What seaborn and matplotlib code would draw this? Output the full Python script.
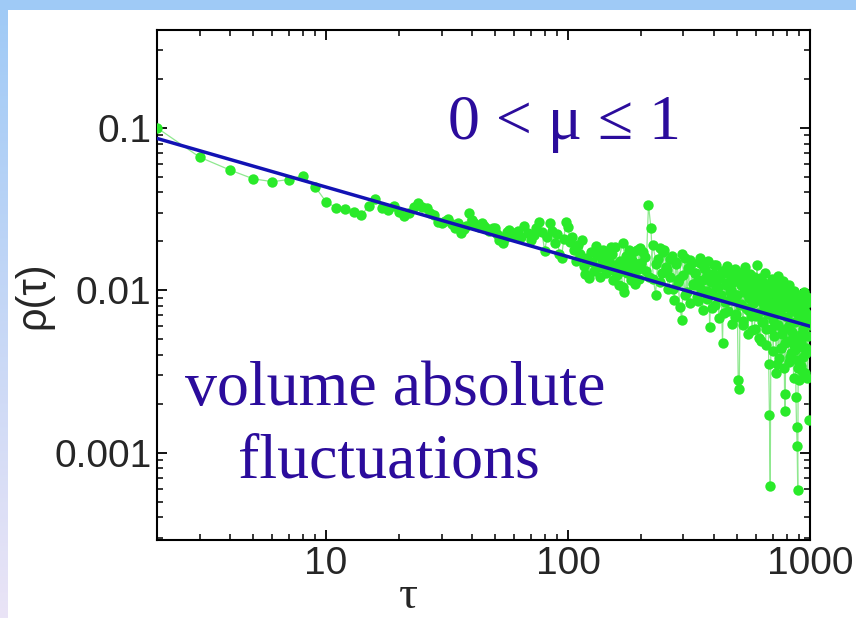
import numpy as np
import pandas as pd
import matplotlib
matplotlib.use("Agg")
import matplotlib.pyplot as plt
import seaborn as sns
from matplotlib.ticker import LogLocator, NullFormatter, FixedLocator, FixedFormatter
from matplotlib.patches import Rectangle

# ---------------- data ----------------
tau_early = list(range(2, 61))
rho_early = [0.100, 0.066, 0.055, 0.0485, 0.0466, 0.048, 0.0507, 0.0434, 0.035,
             0.0323, 0.0317, 0.0304, 0.029, 0.033, 0.0365, 0.032, 0.031, 0.033, 0.0304,
             0.0288, 0.030, 0.0326, 0.0345, 0.0326, 0.032, 0.030, 0.029, 0.0264, 0.026,
             0.0268, 0.0275, 0.0257, 0.0243, 0.026, 0.0226, 0.0238, 0.025, 0.030, 0.027,
             0.0258, 0.025, 0.0245, 0.026, 0.0248, 0.024, 0.0232, 0.0236, 0.0242, 0.024,
             0.0222, 0.0205, 0.0212, 0.0196, 0.021, 0.0228, 0.0235, 0.0218, 0.0226, 0.0215]

tau_mid = list(range(62, 200, 2))
rho_mid = [0.0232, 0.0214, 0.0248, 0.0226, 0.0205, 0.0219, 0.0241, 0.0262, 0.0228, 0.0175,
           0.0212, 0.0258, 0.0233, 0.0196, 0.0221, 0.0168, 0.0159, 0.0207, 0.0262,
           0.0245, 0.0198, 0.0214, 0.0176, 0.0152, 0.0189, 0.0167, 0.0203, 0.0141, 0.0126,
           0.0158, 0.0119, 0.0172, 0.0149, 0.0131, 0.0187, 0.0164, 0.0139, 0.0121, 0.0155,
           0.0178, 0.0146, 0.0128, 0.0169, 0.0152, 0.0185, 0.0134, 0.0116, 0.0185, 0.0143,
           0.0124, 0.0108, 0.0151, 0.0132, 0.0104, 0.0098, 0.0147, 0.0162, 0.0127, 0.0178,
           0.0139, 0.0115, 0.0153, 0.0171, 0.0122, 0.0109, 0.0146, 0.0135, 0.0117, 0.0183]

tau_late = list(range(200, 1001, 5))
rho_late = [0.0148, 0.0172, 0.0131, 0.0336, 0.0243, 0.0118, 0.0094, 0.0156, 0.0183, 0.0127,
            0.0178, 0.0139, 0.0102, 0.0121, 0.0163, 0.0087, 0.0145, 0.0112, 0.0079, 0.0066,
            0.0124, 0.0158, 0.0097, 0.0135, 0.0083, 0.0148, 0.0107, 0.0128, 0.0091, 0.0115,
            0.0159, 0.0102, 0.0076, 0.0138, 0.0121, 0.0088, 0.0152, 0.0059, 0.0113, 0.0096,
            0.0126, 0.0081, 0.0142, 0.0104, 0.0067, 0.0119, 0.0093, 0.0047, 0.0131, 0.0085,
            0.0108, 0.0141, 0.0074, 0.0098, 0.0123, 0.0062, 0.0112, 0.0089, 0.0135, 0.0071,
            0.0094, 0.0028, 0.00248, 0.0117, 0.0082, 0.0129, 0.0065, 0.0103, 0.0139, 0.0078,
            0.0112, 0.0054, 0.0091, 0.0126, 0.0069, 0.0101, 0.0083, 0.0121, 0.0058, 0.0095,
            0.0108, 0.0144, 0.0072, 0.0087, 0.0119, 0.0049, 0.0099, 0.0064, 0.0113, 0.0081,
            0.0127, 0.0058, 0.0092, 0.0073, 0.0106, 0.0035, 0.0017, 0.00062, 0.0084, 0.0118,
            0.0066, 0.0097, 0.0052, 0.0109, 0.0078, 0.0031, 0.0089, 0.0123, 0.0061, 0.0094,
            0.0072, 0.0105, 0.0044, 0.0085, 0.0114, 0.0057, 0.0079, 0.0023, 0.0018, 0.0096,
            0.0068, 0.0101, 0.0049, 0.0083, 0.0108, 0.0062, 0.0039, 0.0091, 0.0074, 0.0055,
            0.0087, 0.0046, 0.0099, 0.0064, 0.0078, 0.0022, 0.00143, 0.0011, 0.00059, 0.0071,
            0.0093, 0.0053, 0.0081, 0.0034, 0.0067, 0.0089, 0.0045, 0.0076, 0.0058, 0.0097,
            0.0063, 0.0082, 0.0041, 0.0072, 0.0091, 0.0029, 0.0069, 0.0052, 0.0085, 0.0016,
            0.0061]

# extra points filling the dense band at large tau (between the ones above)
tau_fill = list(range(152, 1000, 8))
rho_fill = [0.0168, 0.0142, 0.0195, 0.0129, 0.0151, 0.0176,
            0.0137, 0.0161, 0.0121, 0.0189, 0.0146, 0.0112, 0.0171, 0.0133, 0.0156, 0.0102,
            0.0149, 0.0118, 0.0166, 0.0094, 0.0137, 0.0154, 0.0109, 0.0128, 0.0086, 0.0147,
            0.0116, 0.0135, 0.0099, 0.0125, 0.0078, 0.0143, 0.0106, 0.0119, 0.0091, 0.0132,
            0.0072, 0.0111, 0.0127, 0.0087, 0.0101, 0.0118, 0.0068, 0.0093, 0.0124, 0.0081,
            0.0107, 0.0061, 0.0098, 0.0115, 0.0076, 0.0089, 0.0104, 0.0057, 0.0083, 0.0112,
            0.0069, 0.0095, 0.0051, 0.0087, 0.0103, 0.0064, 0.0079, 0.0046, 0.0092, 0.0071,
            0.0099, 0.0058, 0.0084, 0.0042, 0.0075, 0.0095, 0.0035, 0.0081, 0.0038, 0.0088,
            0.0044, 0.0054, 0.0091, 0.0033, 0.0047, 0.0083, 0.0059, 0.0036, 0.0078, 0.0041,
            0.0089, 0.0051, 0.0029, 0.0043, 0.0081, 0.0037, 0.0033, 0.0074, 0.0028, 0.0086,
            0.0048, 0.0032, 0.0039, 0.0077, 0.0031, 0.0044]

fit_tau = [2, 1000]
fit_rho = [0.086, 0.0060]

x_ticks = [10, 100, 1000]
x_ticklabels = ["10", "100", "1000"]
y_ticks = [0.001, 0.01, 0.1]
y_ticklabels = ["0.001", "0.01", "0.1"]

main = pd.DataFrame({"tau": tau_early + tau_mid + tau_late,
                     "rho": rho_early + rho_mid + rho_late})
fill = pd.DataFrame({"tau": tau_fill[:len(rho_fill)], "rho": rho_fill[:len(tau_fill)]})
fit_df = pd.DataFrame({"tau": fit_tau, "rho": fit_rho})

# ---------------- figure ----------------
sns.set_style("ticks")
plt.rcParams["font.family"] = ["Liberation Sans", "DejaVu Sans"]

W, H = 856, 618
fig = plt.figure(figsize=(W / 100, H / 100), dpi=100)
fig.patch.set_facecolor("white")

# slide background: top band and left gradient strip
bg = fig.add_axes([0, 0, 1, 1], zorder=-10)
grad = np.linspace(0, 1, 256)[:, None]
top_c = np.array([0x9f, 0xca, 0xf6]) / 255
bot_c = np.array([0xea, 0xe4, 0xf6]) / 255
img = top_c[None, None, :] * (1 - grad[:, :, None]) + bot_c[None, None, :] * grad[:, :, None]
bg.imshow(img, extent=[0, 8, H, 0], aspect="auto")
bg.add_patch(Rectangle((0, 0), W, 10, facecolor="#9fcaf6", edgecolor="none"))
bg.set_xlim(0, W)
bg.set_ylim(H, 0)
bg.axis("off")

ax = fig.add_axes([157 / W, (H - 540) / H, (810 - 157) / W, (540 - 30) / H])
ax.set_facecolor("white")
ax.set_xscale("log")
ax.set_yscale("log")

green_line = "#8fe88f"
green_dot = "#2aea2a"
for d in (fill, main):
    sns.lineplot(data=d, x="tau", y="rho", ax=ax, color=green_line, linewidth=0.9,
                 sort=False, estimator=None, zorder=2)
for d in (fill, main):
    sns.scatterplot(data=d, x="tau", y="rho", ax=ax, color=green_dot, s=56,
                    linewidth=0, zorder=3)
sns.lineplot(data=fit_df, x="tau", y="rho", ax=ax, color="#1212b4", linewidth=2.5,
             zorder=4)

ax.set_xlim(2, 1000)
ax.set_ylim(2.9e-4, 0.4)

ax.xaxis.set_major_locator(FixedLocator(x_ticks))
ax.xaxis.set_major_formatter(FixedFormatter(x_ticklabels))
ax.xaxis.set_minor_locator(LogLocator(base=10, subs=np.arange(2, 10), numticks=20))
ax.xaxis.set_minor_formatter(NullFormatter())
ax.yaxis.set_major_locator(FixedLocator(y_ticks))
ax.yaxis.set_major_formatter(FixedFormatter(y_ticklabels))
ax.yaxis.set_minor_locator(LogLocator(base=10, subs=np.arange(2, 10), numticks=20))
ax.yaxis.set_minor_formatter(NullFormatter())

ax.tick_params(which="both", direction="in", top=True, right=True, color="black")
ax.tick_params(which="major", length=7, width=1.3, labelsize=28, pad=4)
ax.tick_params(which="minor", length=4, width=1.1)
for s in ax.spines.values():
    s.set_linewidth(1.5)
    s.set_color("black")

ax.set_xlabel("τ", fontsize=34, family=["Liberation Serif", "DejaVu Serif"])
ax.xaxis.set_label_coords((408 - 157) / 653, -(597 - 540) / 510)
ax.xaxis.label.set_va("center")
ax.set_ylabel("ρ(τ)", fontsize=30)
ax.yaxis.set_label_coords((33 - 157) / 653, (540 - 295) / 510)
ax.yaxis.label.set_va("center")

tcol = "#2b0c9c"
serif = ["Liberation Serif", "DejaVu Serif"]
fig.text(565 / W, 1 - 139 / H, "0 < μ ≤ 1", fontsize=46, color=tcol, family=serif,
         ha="center", va="baseline")
fig.text(395 / W, 1 - 405 / H, "volume absolute", fontsize=46, color=tcol, family=serif,
         ha="center", va="baseline")
fig.text(389 / W, 1 - 477 / H, "fluctuations", fontsize=46, color=tcol, family=serif,
         ha="center", va="baseline")

fig.savefig("out.png", dpi=100, facecolor="white")
